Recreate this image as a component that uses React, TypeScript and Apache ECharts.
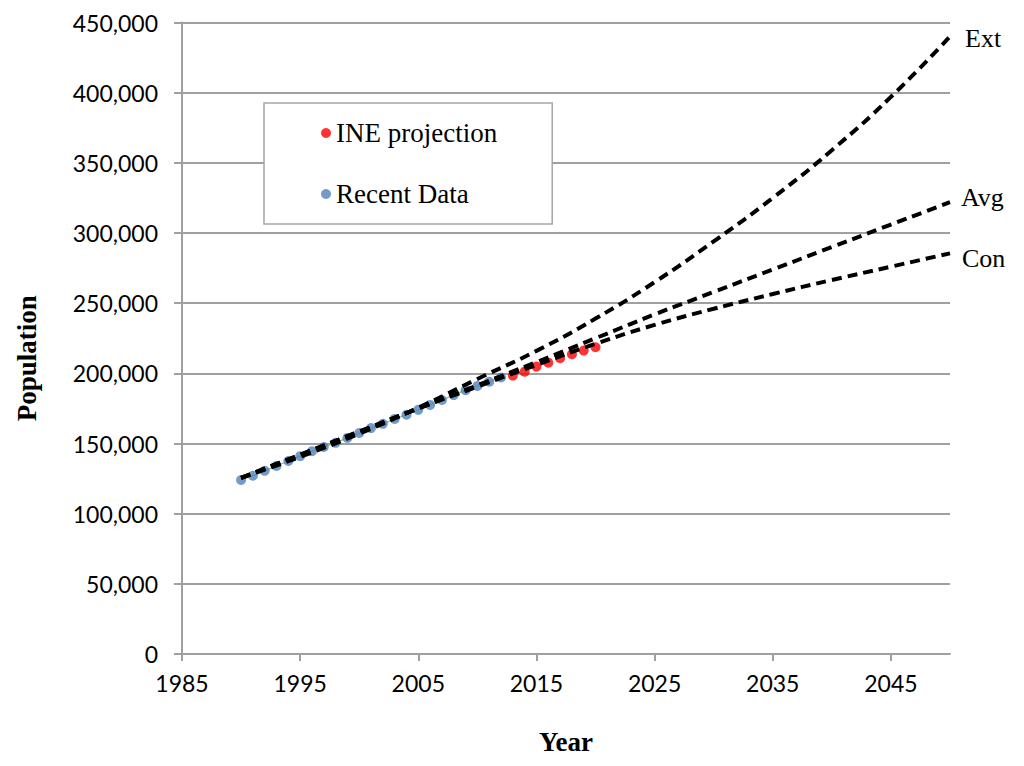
import React, { useEffect, useRef } from 'react';
import * as echarts from 'echarts';

// Recent observed population (blue)
const recentYears = [1990, 1991, 1992, 1993, 1994, 1995, 1996, 1997, 1998, 1999, 2000, 2001, 2002, 2003, 2004, 2005, 2006, 2007, 2008, 2009, 2010, 2011, 2012];
const recentValues = [124000, 127000, 130500, 134000, 137500, 141000, 144500, 147500, 150500, 154000, 157500, 161000, 164000, 167500, 170500, 174000, 177500, 181000, 184500, 188000, 191000, 194000, 197000];

// INE projection (red)
const ineYears = [2013, 2014, 2015, 2016, 2017, 2018, 2019, 2020];
const ineValues = [198400, 201200, 204800, 207600, 210800, 213600, 216200, 218600];

// Model curves (dashed)
const modelYears = [1990, 1995, 2000, 2005, 2010, 2015, 2020, 2025, 2030, 2035, 2040, 2045, 2050];
const extValues = [125500, 140500, 157000, 175500, 196000, 216000, 239000, 265000, 294000, 325000, 359000, 397000, 440000];
const avgValues = [125500, 142000, 158500, 175000, 191500, 208000, 225000, 242000, 258000, 274000, 290000, 306000, 322000];
const conValues = [125500, 142000, 158500, 175000, 190500, 206000, 221000, 234500, 246000, 256500, 266500, 276000, 285500];

// Axis ticks
const xTickYears = [1985, 1995, 2005, 2015, 2025, 2035, 2045];

const GRID_GRAY = '#a0a0a0';
const SERIF = '"Liberation Serif", "Times New Roman", serif';
const SANS = 'Lato, "Open Sans", sans-serif';

function pairs(xs: number[], ys: number[]) {
  return xs.map((x, i) => [x, ys[i]]);
}

export default function App() {
  const ref = useRef<HTMLDivElement>(null);

  useEffect(() => {
    const chart = echarts.init(ref.current!, null, { renderer: 'svg' });

    const dashed = (name: string, vals: number[], dist: number, offY: number) => ({
      type: 'line',
      name,
      data: pairs(modelYears, vals),
      smooth: true,
      symbol: 'none',
      showSymbol: false,
      z: 5,
      silent: true,
      lineStyle: { color: '#000', width: 4, type: [10, 6] },
      endLabel: {
        show: true,
        formatter: () => name,
        distance: dist,
        offset: [0, offY],
        color: '#000',
        fontFamily: SERIF,
        fontSize: 26,
      },
    });

    chart.setOption({
      animation: false,
      backgroundColor: '#fff',
      grid: { left: 182, right: 74, top: 22.5, bottom: 112 },
      legend: {
        data: ['INE projection', 'Recent Data'],
        orient: 'vertical',
        left: 264,
        top: 103,
        icon: 'circle',
        itemWidth: 10,
        itemHeight: 10,
        itemGap: 31,
        padding: [15, 55, 15, 57],
        borderColor: '#a6a6a6',
        borderWidth: 1.5,
        backgroundColor: '#fff',
        textStyle: { fontFamily: SERIF, fontSize: 27, color: '#000', lineHeight: 30 },
      },
      xAxis: {
        type: 'value',
        min: 1985,
        max: 2050,
        name: 'Year',
        nameLocation: 'middle',
        nameGap: 74,
        nameTextStyle: { fontFamily: SERIF, fontSize: 27, fontWeight: 'bold', color: '#000' },
        axisLine: { show: true, lineStyle: { color: GRID_GRAY, width: 2 } },
        axisTick: { show: true, length: 7, lineStyle: { color: GRID_GRAY, width: 2 }, customValues: xTickYears },
        axisLabel: { fontFamily: SANS, fontSize: 23, color: '#000', margin: 17, customValues: xTickYears, formatter: (v: number) => String(v) },
        splitLine: { show: false },
      },
      yAxis: {
        type: 'value',
        min: 0,
        max: 450000,
        interval: 50000,
        name: 'Population',
        nameLocation: 'middle',
        nameGap: 142,
        nameTextStyle: { fontFamily: SERIF, fontSize: 27, fontWeight: 'bold', color: '#000', padding: [0, 40, 0, 0] },
        axisLine: { show: true, lineStyle: { color: GRID_GRAY, width: 2 } },
        axisTick: { show: true, length: 8, lineStyle: { color: GRID_GRAY, width: 2 } },
        axisLabel: {
          fontFamily: SANS,
          fontSize: 23,
          color: '#000',
          margin: 24,
          formatter: (v: number) => v.toLocaleString('en-US'),
        },
        splitLine: { show: true, lineStyle: { color: GRID_GRAY, width: 2 } },
      },
      series: [
        {
          type: 'line',
          name: 'Recent Data trend',
          data: pairs(recentYears, recentValues),
          symbol: 'none',
          showSymbol: false,
          silent: true,
          z: 1,
          lineStyle: { color: '#9bbb59', width: 1.2 },
        },
        {
          type: 'scatter',
          name: 'Recent Data',
          data: pairs(recentYears, recentValues),
          symbol: 'circle',
          symbolSize: 10,
          z: 2,
          itemStyle: { color: '#4f81bd' },
        },
        {
          type: 'scatter',
          name: 'INE projection',
          data: pairs(ineYears, ineValues),
          symbol: 'circle',
          symbolSize: 10,
          z: 2,
          itemStyle: { color: '#ff0000' },
        },
        dashed('Ext', extValues, 15, 2),
        dashed('Avg', avgValues, 11, -5),
        dashed('Con', conValues, 12, 5),
      ],
    });

    return () => chart.dispose();
  }, []);

  return (
    <div
      ref={ref}
      style={{ position: 'fixed', left: 0, top: 0, width: 1024, height: 766, background: '#fff' }}
    />
  );
}
